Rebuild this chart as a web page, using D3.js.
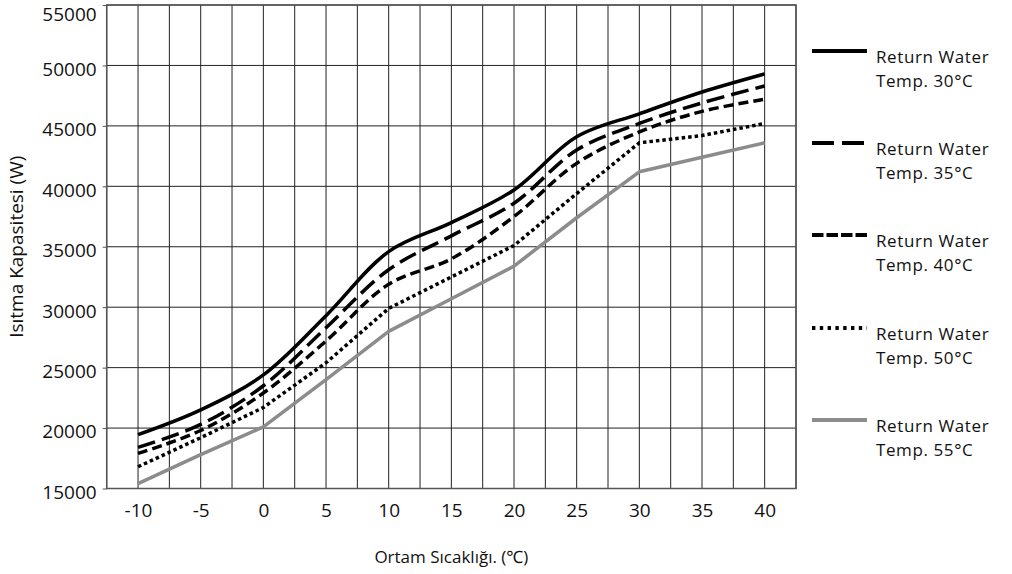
<!DOCTYPE html>
<html>
<head>
<meta charset="utf-8">
<script src="https://cdn.jsdelivr.net/npm/d3@7"></script>
<style>
  body { margin: 0; background: #fff; }
  svg { display: block; }
  text { font-family: "Open Sans", "Noto Sans", sans-serif; fill: #111; }
</style>
</head>
<body>
<svg id="chart" width="1012" height="574"></svg>
<script>
// ---- data ----
const temps = [-10, -5, 0, 5, 10, 15, 20, 25, 30, 35, 40];
const rw30 = [19450, 21500, 24400, 29300, 34600, 37000, 39700, 44100, 46000, 47800, 49300];
const rw35 = [18400, 20300, 23500, 28300, 33100, 35900, 38600, 43000, 45200, 46900, 48300];
const rw40 = [17900, 19800, 22900, 27200, 31900, 34000, 37500, 41900, 44500, 46200, 47200];
const rw50 = [16800, 19200, 21700, 25400, 29900, 32500, 35100, 39400, 43600, 44200, 45200];
const rw55 = [15400, 17800, 20100, 24000, 28000, 30700, 33400, 37400, 41200, 42400, 43600];
const seriesNames = ["Return Water|Temp. 30°C", "Return Water|Temp. 35°C", "Return Water|Temp. 40°C", "Return Water|Temp. 50°C", "Return Water|Temp. 55°C"];
const xTicks = [-10, -5, 0, 5, 10, 15, 20, 25, 30, 35, 40];
const yTicks = [15000, 20000, 25000, 30000, 35000, 40000, 45000, 50000, 55000];
const xTitle = "Ortam Sıcaklığı. (℃)";
const yTitle = "Isıtma Kapasitesi (W)";

// ---- styles ----
const styles = [
  { color: "#000", dash: null, curve: d3.curveCatmullRom.alpha(0.5), legendDash: null },
  { color: "#000", dash: "18,7", curve: d3.curveCatmullRom.alpha(0.5), legendDash: "22,8" },
  { color: "#000", dash: "10,5", curve: d3.curveCatmullRom.alpha(0.5), legendDash: "11.5,3" },
  { color: "#000", dash: "3.5,3", curve: d3.curveLinear, legendDash: "3.4,4.4" },
  { color: "#8c8c8c", dash: null, curve: d3.curveLinear, legendDash: null }
];
const allSeries = [rw30, rw35, rw40, rw50, rw55];

const svg = d3.select("#chart");
const L = 106.7, R = 796, T = 5, B = 488.5;
const x = d3.scaleLinear().domain([-12.5, 42.5]).range([L, R]);
const y = d3.scaleLinear().domain([15000, 55000]).range([B, T]);

// grid
const g = svg.append("g");
const vGrid = d3.range(-12.5, 42.51, 2.5);
g.selectAll("line.v").data(vGrid).join("line")
  .attr("x1", d => x(d)).attr("x2", d => x(d))
  .attr("y1", T).attr("y2", B)
  .attr("stroke", "#222").attr("stroke-width", 1);
g.selectAll("line.h").data(yTicks).join("line")
  .attr("x1", L).attr("x2", R)
  .attr("y1", d => y(d)).attr("y2", d => y(d))
  .attr("stroke", "#222").attr("stroke-width", 1);
// border
svg.append("rect").attr("x", L).attr("y", T).attr("width", R - L).attr("height", B - T)
  .attr("fill", "none").attr("stroke", "#555").attr("stroke-width", 1.5);

// y axis ticks & labels
const yAxis = d3.axisLeft(y).tickValues(yTicks).tickSize(4).tickPadding(6).tickFormat(d => String(d));
const ya = svg.append("g").attr("transform", `translate(${L},0)`).call(yAxis);
ya.select(".domain").remove();
ya.selectAll(".tick line").attr("stroke", "#555");
ya.selectAll(".tick text").attr("font-size", 19).attr("fill", "#111")
  .style("font-family", "'Open Sans', sans-serif")
  .attr("dy", d => d === 55000 ? "15.6" : "0.52em");

// x axis labels
const xAxis = d3.axisBottom(x).tickValues(xTicks).tickSize(0).tickPadding(15).tickFormat(d => String(d));
const xa = svg.append("g").attr("transform", `translate(0,${B})`).call(xAxis);
xa.select(".domain").remove();
xa.selectAll(".tick text").attr("font-size", 19).attr("fill", "#111")
  .style("font-family", "'Open Sans', sans-serif");

// titles
svg.append("text").attr("x", (L + R) / 2).attr("y", 563).attr("text-anchor", "middle")
  .attr("font-size", 17).text(xTitle);
svg.append("text").attr("transform", `translate(23,${(T + B) / 2}) rotate(-90)`)
  .attr("text-anchor", "middle").attr("font-size", 19).text(yTitle);

// lines
allSeries.forEach((vals, i) => {
  const st = styles[i];
  const line = d3.line().x((d, k) => x(temps[k])).y(d => y(d)).curve(st.curve);
  svg.append("path").datum(vals)
    .attr("d", line)
    .attr("fill", "none")
    .attr("stroke", st.color)
    .attr("stroke-width", 3.5)
    .attr("stroke-dasharray", st.dash)
    .attr("stroke-linejoin", "round");
});

// legend
const legY = [51, 143, 235, 328, 420];
seriesNames.forEach((name, i) => {
  const st = styles[i];
  const ly = legY[i];
  svg.append("line").attr("x1", 812).attr("x2", 867).attr("y1", ly).attr("y2", ly)
    .attr("stroke", st.color).attr("stroke-width", 4)
    .attr("stroke-dasharray", st.legendDash);
  const parts = name.split("|");
  svg.append("text").attr("x", 876).attr("y", ly + 12).attr("font-size", 17)
    .attr("letter-spacing", 0.6).text(parts[0]);
  svg.append("text").attr("x", 876).attr("y", ly + 35.5).attr("font-size", 17)
    .attr("letter-spacing", 0.6).text(parts[1]);
});
</script>
</body>
</html>
